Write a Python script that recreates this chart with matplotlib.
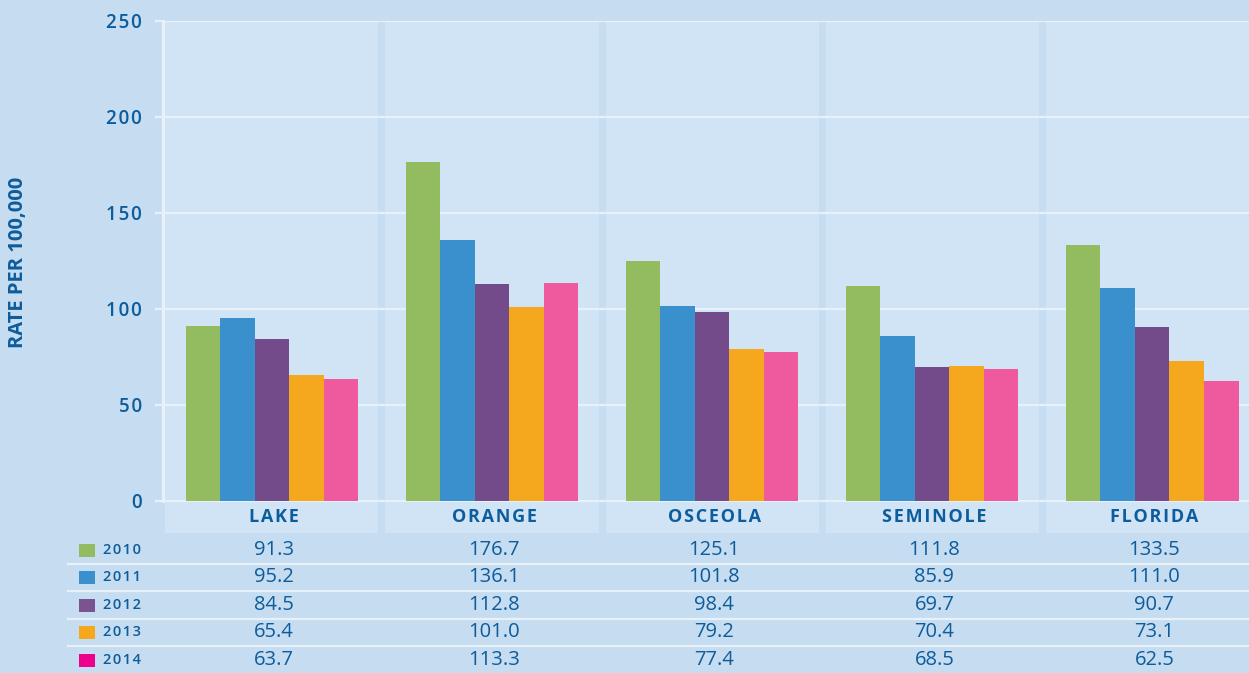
import matplotlib
matplotlib.use("Agg")
import matplotlib.pyplot as plt
import matplotlib.transforms as mtransforms
from matplotlib.patches import Rectangle
import numpy as np

# --- data -------------------------------------------------------------
regions = ["LAKE", "ORANGE", "OSCEOLA", "SEMINOLE", "FLORIDA"]
years = ["2010", "2011", "2012", "2013", "2014"]
rate_2010 = [91.3, 176.7, 125.1, 111.8, 133.5]
rate_2011 = [95.2, 136.1, 101.8, 85.9, 111.0]
rate_2012 = [84.5, 112.8, 98.4, 69.7, 90.7]
rate_2013 = [65.4, 101.0, 79.2, 70.4, 73.1]
rate_2014 = [63.7, 113.3, 77.4, 68.5, 62.5]
y_ticks = [0, 50, 100, 150, 200, 250]

series = [rate_2010, rate_2011, rate_2012, rate_2013, rate_2014]
bar_colors = ["#93bb5f", "#3a90cc", "#734b8a", "#f5a81e", "#ef5a9f"]
key_colors = ["#93bb5f", "#3a90cc", "#7a5490", "#f5a81e", "#ec008c"]

BG = "#c5dcf1"
PANEL = "#d0e4f6"
GRID = "#e8f1fa"
INK = "#0d5c9b"
FONT = ["Open Sans", "DejaVu Sans"]

W, H = 1249, 673
fig = plt.figure(figsize=(W / 100, H / 100), dpi=100, facecolor=BG)

# main chart axes: pixel box x 163..1249, y 21..533 (label strip below zero)
y_low = -16.7
ax = fig.add_axes([163 / W, 1 - 533 / H, (W - 163) / W, (533 - 21) / H])
ax.set_facecolor(BG)
ax.set_xlim(-0.495, 4.44)
ax.set_ylim(y_low, 250)
for s in ax.spines.values():
    s.set_visible(False)

n = len(regions)
x = np.arange(n)
panel_half = 0.484
for i in range(n):
    ax.add_patch(Rectangle((x[i] - panel_half, y_low), 2 * panel_half, 250 - y_low,
                           facecolor=PANEL, edgecolor="none", zorder=0))

for t in y_ticks:
    ax.axhline(t, color=GRID, lw=1.6, zorder=1)
ax.axvline(-0.495, ymin=(0 - y_low) / (250 - y_low), ymax=1.0, color=GRID, lw=2.2, zorder=1, clip_on=False)

bw = 0.157
for j, vals in enumerate(series):
    ax.bar(x + (j - 2) * bw, vals, width=bw, color=bar_colors[j], zorder=2, linewidth=0)


def spaced(s, gap="\u200a"):
    return gap.join(s)


ax.set_xticks([])
ax.set_yticks(y_ticks)
ax.set_yticklabels([spaced(str(t)) for t in y_ticks], fontsize=13.5, fontweight="semibold",
                   color=INK, family=FONT)
ax.tick_params(axis="y", length=6, width=1.6, color=GRID, pad=9)

for i, name in enumerate(regions):
    ax.text(x[i] + 0.01, y_low / 2, spaced(name), ha="center", va="center",
            fontsize=13, fontweight="bold", color=INK, family=FONT)

fig.text(18 / W, 1 - 262 / H, "RATE PER 100,000", rotation=90, ha="center", va="center",
         fontsize=14.5, fontweight="bold", color=INK, family=FONT)

# --- data table below the chart ---------------------------------------
tab = fig.add_axes([0, 0, 1, (H - 533) / H])
tab.set_xlim(0, W)
tab.set_ylim(H, 533)
tab.axis("off")
tab.patch.set_alpha(0)
mixed = mtransforms.blended_transform_factory(ax.transData, tab.transData)

row_y = [550, 577, 605, 632, 660]
for y in [563.5, 591, 618.5, 646]:
    tab.plot([67, W], [y, y], color=GRID, lw=1.6, solid_capstyle="butt")

for j, yr in enumerate(years):
    yc = row_y[j]
    tab.add_patch(Rectangle((79, yc - 6.5), 16, 13, facecolor=key_colors[j], edgecolor="none"))
    tab.text(103, yc, spaced(yr), ha="left", va="center", fontsize=10.5,
             fontweight="semibold", color=INK, family=FONT)
    for i in range(n):
        tab.text(x[i] + 0.01, yc, f"{series[j][i]:.1f}", transform=mixed, ha="center",
                 va="center", fontsize=14.5, color=INK, family=FONT)

fig.savefig("out.png", dpi=100, facecolor=BG)
